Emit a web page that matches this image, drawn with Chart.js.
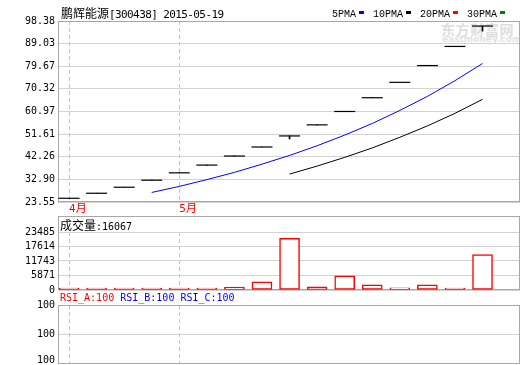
<!DOCTYPE html>
<html>
<head>
<meta charset="utf-8">
<script src="https://cdn.jsdelivr.net/npm/chart.js@4.4.1/dist/chart.umd.min.js"></script>
<style>
  html, body { margin: 0; padding: 0; background: #fff; }
  #wrap { position: relative; width: 520px; height: 365px; overflow: hidden; }
  canvas { position: absolute; left: 0; top: 0; }
  .txt { position: absolute; white-space: nowrap; line-height: 14px; color: #000; }
  .cjk { font: 12px "Noto Sans CJK SC", sans-serif; }
  .mono { font: 11px "DejaVu Sans Mono", monospace; letter-spacing: -0.6px; }
  .small { font: 10px "DejaVu Sans Mono", monospace; }
  .leg { font: 10px "Liberation Mono", monospace; }
  .mk { display: inline-block; width: 5px; height: 3px; margin: 0 9px 0 3px; vertical-align: 3px; }
  .wm1 { left: 441px; top: 19px; font: bold 14px "Noto Sans CJK SC", sans-serif; color: #dedede; letter-spacing: 0.6px; }
  .wm2 { left: 442px; top: 34px; font: bold 9px "DejaVu Sans", sans-serif; color: #e2e2e2; }
</style>
</head>
<body>
<div id="wrap">
  <div class="txt wm1">东方财富网</div>
  <div class="txt wm2">eastmoney.com</div>
  <canvas id="priceChart" width="520" height="365"></canvas>
  <canvas id="volChart" width="520" height="365"></canvas>
  <canvas id="rsiChart" width="520" height="365"></canvas>
  <div class="txt" style="left:61px;top:4px"><span class="cjk">鹏辉能源</span><span class="mono">[300438] 2015-05-19</span></div>
  <div class="txt" style="left:332px;top:5px"><span class="leg">5PMA</span><span class="mk" style="background:#0000ff"></span><span class="leg">10PMA</span><span class="mk" style="background:#000"></span><span class="leg">20PMA</span><span class="mk" style="background:#ff0000"></span><span class="leg">30PMA</span><span class="mk" style="background:#008000"></span></div>
  <div class="txt" style="left:60px;top:216px"><span class="cjk">成交量</span><span class="small">:16067</span></div>
  <div class="txt small" style="left:60px;top:292px"><span style="color:#ff0000">RSI_A:100</span> <span style="color:#0000ff">RSI_B:100</span> <span style="color:#0000ff">RSI_C:100</span></div>
</div>
<script>
// Daily data, 300438
const dates = ['2015-04-27', '2015-04-28', '2015-04-29', '2015-04-30', '2015-05-04', '2015-05-05', '2015-05-06', '2015-05-07',
               '2015-05-08', '2015-05-11', '2015-05-12', '2015-05-13', '2015-05-14', '2015-05-15', '2015-05-18', '2015-05-19'];
const opens  = [25.09, 27.17, 29.66, 32.57, 35.61, 38.81, 42.55, 46.29, 50.86, 55.44, 60.97, 66.66, 73.02, 79.96, 87.86, 96.30];
const highs  = [25.09, 27.17, 29.66, 32.57, 35.61, 38.81, 42.55, 46.29, 50.86, 55.44, 60.97, 66.66, 73.02, 79.96, 87.86, 96.30];
const lows   = [25.09, 27.17, 29.66, 32.57, 35.61, 38.81, 42.55, 46.29, 49.60, 55.44, 60.97, 66.66, 73.02, 79.96, 87.86, 94.20];
const closes = [25.09, 27.17, 29.66, 32.57, 35.61, 38.81, 42.55, 46.29, 50.86, 55.44, 60.97, 66.66, 73.02, 79.96, 87.86, 96.30];
const ma5  = [null, null, null, 27.5, 30.0, 32.8, 35.8, 39.2, 42.8, 46.8, 51.2, 56.0, 61.4, 67.2, 73.7, 80.8];
const ma10 = [null, null, null, null, null, null, null, null, 35.1, 38.4, 42.0, 45.9, 50.3, 55.0, 60.2, 66.0];
const volumes = [400, 400, 400, 400, 400, 800, 1150, 3300, 20900, 1250, 5750, 2050, 900, 2050, 500, 14300];

// Axis tick labels
const priceTicks  = ['23.55', '32.90', '42.26', '51.61', '60.97', '70.32', '79.67', '89.03', '98.38'];
const volumeTicks = ['0', '5871', '11743', '17614', '23485'];
const rsiTicks    = ['100', '100', '100'];

const FRAME = '#a8a8a8';
const GRID = '#d2d2d2';
const X_MIN = -0.4, X_MAX = 16.36;
const tickFont = { family: '"DejaVu Sans Mono", monospace', size: 10 };

// month start positions -> "4月", "5月"
const monthStarts = dates.map((d, i) => (i === 0 || d.slice(5, 7) !== dates[i - 1].slice(5, 7)) ? i : -1).filter(i => i >= 0);
const monthLabel = v => parseInt(dates[v].slice(5, 7), 10) + '月';

const framePlugin = {
    id: 'frame',
    beforeDatasetsDraw(chart, args, opts) {
        const { ctx, chartArea: a } = chart;
        const top = a.top - (opts.extendTop || 0);
        ctx.save();
        ctx.strokeStyle = FRAME;
        ctx.lineWidth = 1;
        ctx.strokeRect(a.left + 0.5, top + 0.5, a.right - a.left - 1, a.bottom - top - 1);
        ctx.restore();
    }
};

function xScale(showLabels) {
    return {
        type: 'linear',
        min: X_MIN,
        max: X_MAX,
        offset: false,
        afterBuildTicks: s => { s.ticks = monthStarts.map(i => ({ value: i })); },
        afterFit: s => { s.height = showLabels ? 14 : 0; s.paddingLeft = 0; s.paddingRight = 0; },
        grid: { color: '#c4c4c4', drawTicks: false, offset: false },
        border: { display: false, dash: [4, 3] },
        ticks: {
            display: showLabels,
            autoSkip: false,
            align: 'start',
            maxRotation: 0,
            padding: 1,
            color: '#ff0000',
            font: { family: '"DejaVu Sans Mono", "Noto Sans CJK SC", sans-serif', size: 11 },
            callback: v => monthLabel(v)
        }
    };
}

function yScale(labels, min, max, values, gridColor) {
    return {
        type: 'linear',
        min: min,
        max: max,
        afterBuildTicks: s => { s.ticks = values.map(v => ({ value: v })); },
        afterFit: s => { s.width = 58; s.paddingTop = 0; s.paddingBottom = 0; },
        grid: { color: gridColor || GRID, drawTicks: false },
        border: { display: false },
        ticks: { autoSkip: false, padding: 3, color: '#000', font: tickFont, callback: (v, i) => labels[i] }
    };
}

const baseOptions = {
    responsive: false,
    animation: false,
    events: [],
    plugins: { legend: { display: false }, tooltip: { enabled: false } }
};

// Price pane
const priceValues = priceTicks.map(t => parseFloat(t));
new Chart(document.getElementById('priceChart'), {
    data: {
        datasets: [{
            type: 'bar',
            data: lows.map((l, i) => ({ x: i, y: [l, highs[i]] })),
            backgroundColor: '#000',
            borderWidth: 0,
            barThickness: 1
        }, {
            type: 'scatter',
            data: closes.map((c, i) => ({ x: i, y: c })),
            pointStyle: 'line',
            pointRadius: 10.5,
            pointBorderColor: '#000',
            pointBorderWidth: 1.2
        }, {
            type: 'line',
            data: ma5.map((v, i) => ({ x: i, y: v })),
            borderColor: '#0000ff',
            borderWidth: 1,
            pointRadius: 0,
            tension: 0
        }, {
            type: 'line',
            data: ma10.map((v, i) => ({ x: i, y: v })),
            borderColor: '#000',
            borderWidth: 1,
            pointRadius: 0,
            tension: 0
        }]
    },
    options: {
        ...baseOptions,
        layout: { autoPadding: false, padding: { left: 0, right: 0, top: 21, bottom: 149 } },
        plugins: { ...baseOptions.plugins, frame: {} },
        scales: {
            x: xScale(true),
            y: yScale(priceTicks, priceValues[0], priceValues[priceValues.length - 1], priceValues)
        }
    },
    plugins: [framePlugin]
});

// Volume pane
const volumeValues = volumeTicks.map(t => parseFloat(t));
new Chart(document.getElementById('volChart'), {
    data: {
        datasets: [{
            type: 'bar',
            data: volumes.map((v, i) => ({ x: i, y: v })),
            backgroundColor: '#fff',
            borderColor: '#ff0000',
            borderWidth: 1.5,
            borderSkipped: false,
            minBarLength: 2,
            barThickness: 20
        }]
    },
    options: {
        ...baseOptions,
        layout: { autoPadding: false, padding: { left: 0, right: 0, top: 232, bottom: 75 } },
        plugins: { ...baseOptions.plugins, frame: { extendTop: 16 } },
        scales: {
            x: xScale(false),
            y: yScale(volumeTicks, 0, volumeValues[volumeValues.length - 1], volumeValues)
        }
    },
    plugins: [framePlugin]
});

// RSI pane
const rsiValues = [0.06, 0.5, 1];
new Chart(document.getElementById('rsiChart'), {
    data: { datasets: [] },
    options: {
        ...baseOptions,
        layout: { autoPadding: false, padding: { left: 0, right: 0, top: 305, bottom: 1 } },
        plugins: { ...baseOptions.plugins, frame: {} },
        scales: {
            x: xScale(false),
            y: yScale(rsiTicks, 0, 1, rsiValues, ctx => (ctx.tick && ctx.tick.value === 0.5) ? GRID : 'rgba(0,0,0,0)')
        }
    },
    plugins: [framePlugin]
});
</script>
</body>
</html>
